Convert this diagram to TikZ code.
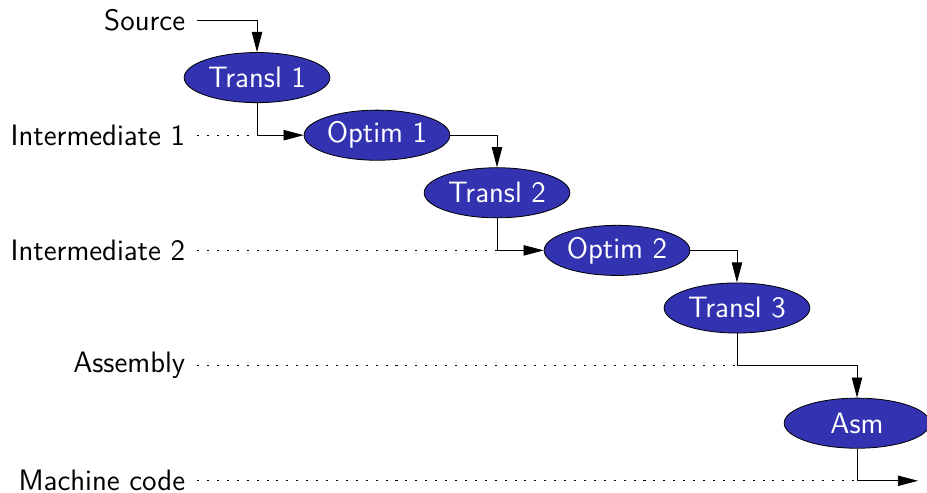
\documentclass[tikz,border=0pt]{standalone}
\usepackage{tikz}
\usetikzlibrary{arrows.meta,shapes.geometric}

\definecolor{passblue}{RGB}{51,51,178}
\tikzset{
  pass/.style={ellipse, draw=black, fill=passblue, text=white, minimum width=2.53cm, minimum height=0.87cm, inner sep=0pt},
  lang/.style={anchor=east, inner xsep=0.2cm, inner ysep=0.05cm},
  flow/.style={-{Triangle[length=0.35cm,width=0.18cm]}},
  trail/.style={dash pattern=on 1pt off 3.9pt}
}

\begin{document}
\begin{tikzpicture}[font=\sffamily\fontsize{14.6}{17}\selectfont]
\useasboundingbox (-4.462, 0.347) rectangle (11.632, -8.212);
% languages on the left
\node[lang] (src) at (-1.04, 0) {Source};
\node[lang] (im1) at (-1.04, -2) {Intermediate 1};
\node[lang] (im2) at (-1.04, -4) {Intermediate 2};
\node[lang] (asb) at (-1.04, -6) {Assembly};
\node[lang] (mc) at (-1.04, -8) {Machine code};
% passes
\node[pass] (t1) at (0, -1) {Transl 1};
\node[pass] (o1) at (2.083, -2) {Optim 1};
\node[pass] (t2) at (4.167, -3) {Transl 2};
\node[pass] (o2) at (6.25, -4) {Optim 2};
\node[pass] (t3) at (8.333, -5) {Transl 3};
\node[pass] (asm) at (10.417, -7) {Asm};
\coordinate (out) at (11.476, -8);
% dotted levels
\draw[trail] (im1.east) -- (t1.south |- im1.east);
\draw[trail] (im2.east) -- (t2.south |- im2.east);
\draw[trail] (asb.east) -- (t3.south |- asb.east);
\draw[trail] (mc.east) -- (asm.south |- mc.east);
% flow
\draw[flow] (src.east) -| (t1.north);
\draw[flow] (t1.south) |- (o1.west);
\draw[flow] (o1.east) -| (t2.north);
\draw[flow] (t2.south) |- (o2.west);
\draw[flow] (o2.east) -| (t3.north);
\draw[flow] (t3.south) -- (t3.south |- asb.east) -| (asm.north);
\draw[flow] (asm.south) |- (out);
\end{tikzpicture}
\end{document}
